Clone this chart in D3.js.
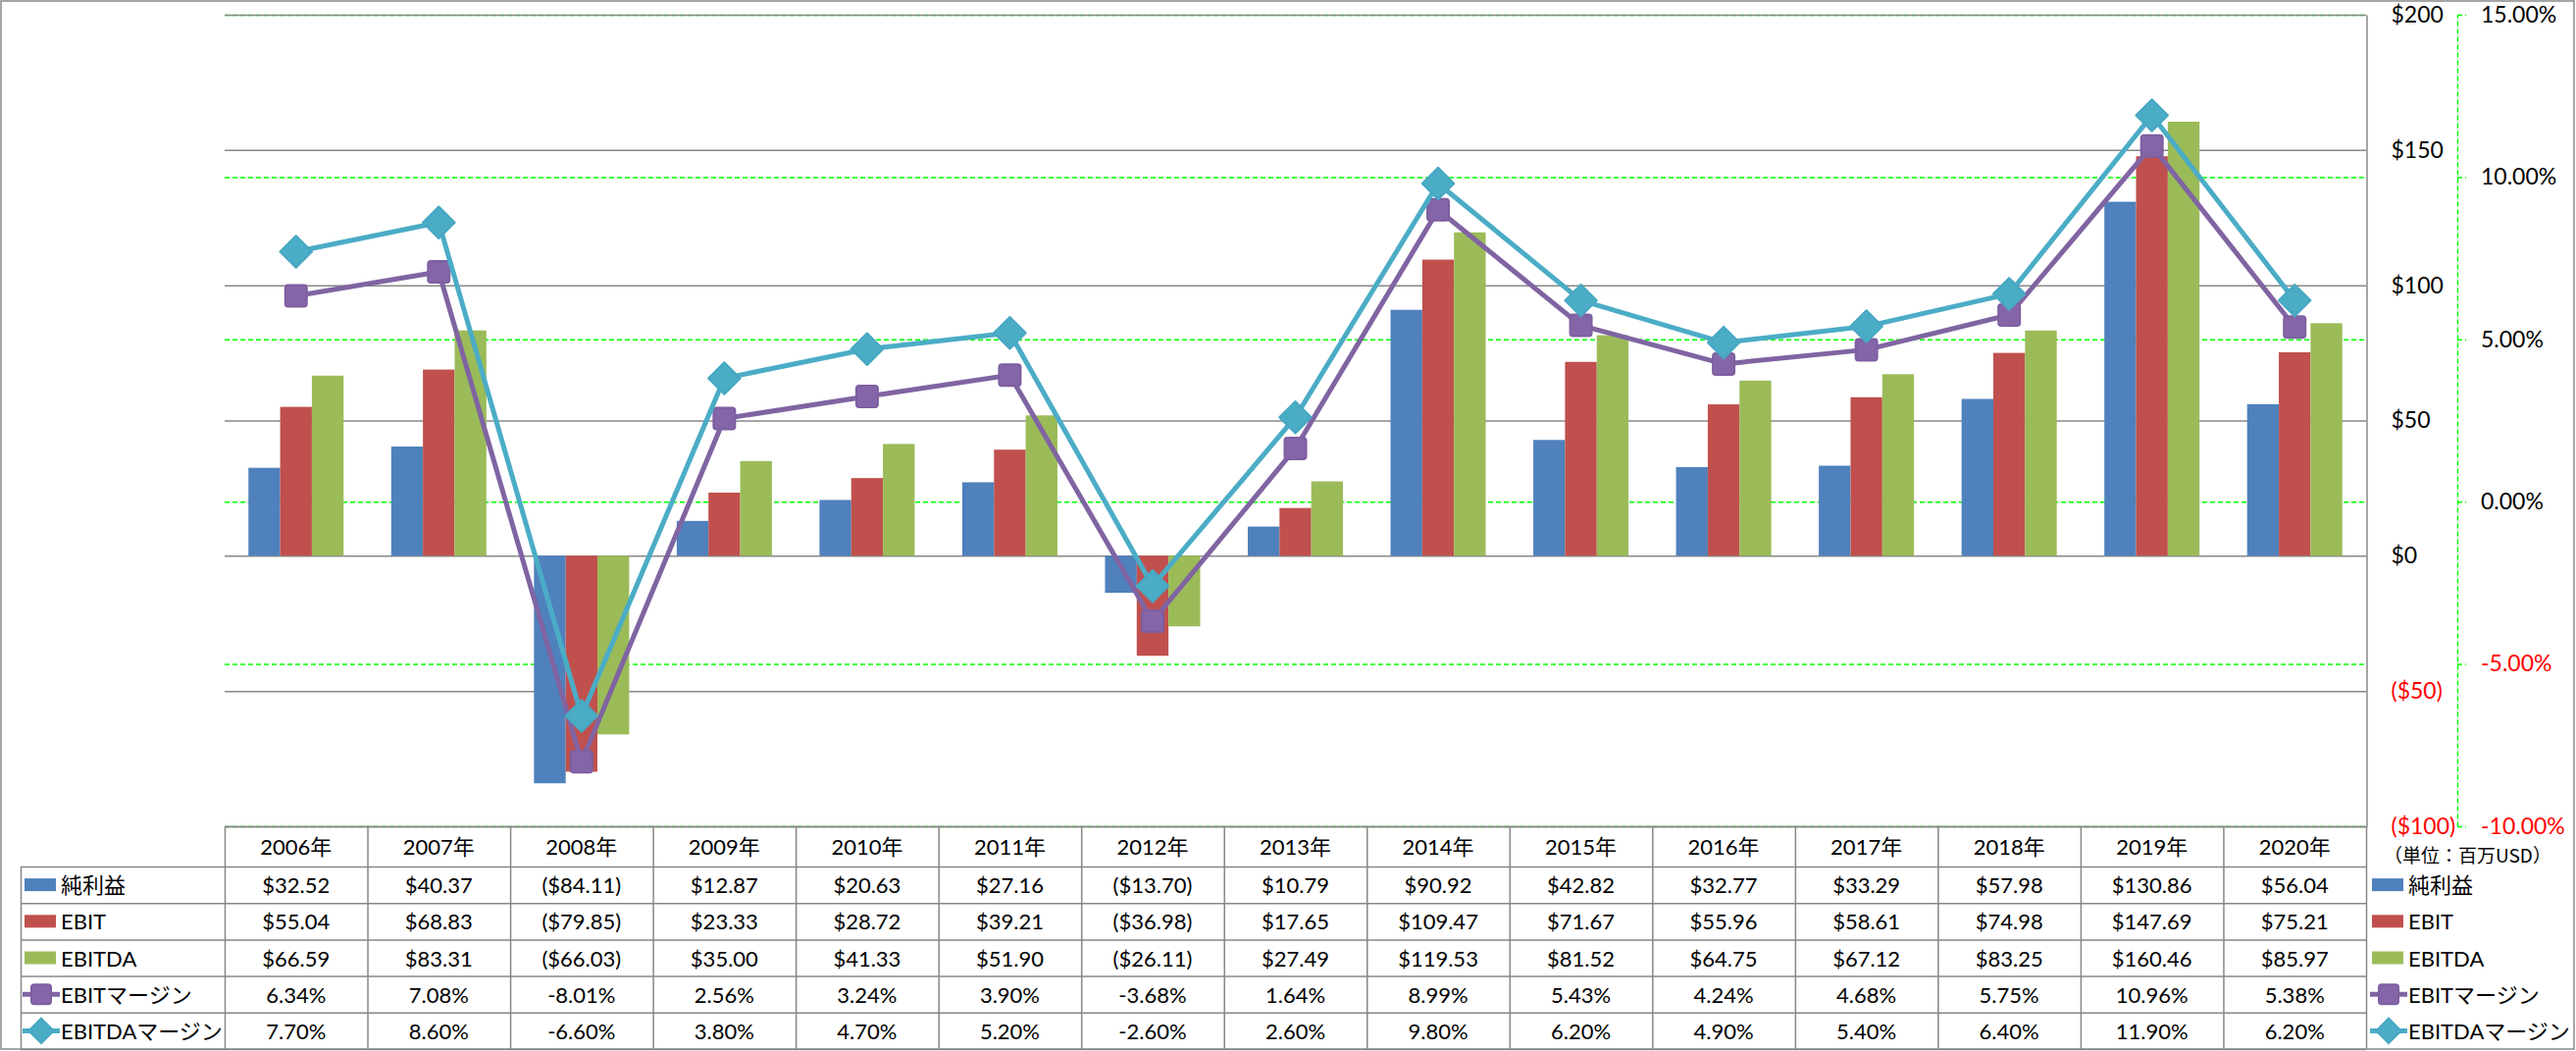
<!DOCTYPE html>
<html>
<head>
<meta charset="utf-8">
<script src="https://cdn.jsdelivr.net/npm/d3@7"></script>
<style>
  html, body { margin: 0; padding: 0; background: #fff; }
  svg { display: block; }
  text { font-family: Lato, "Noto Sans CJK JP", sans-serif; }
</style>
</head>
<body>
<svg id="chart" width="2626" height="1071"></svg>
<script>
// ---- Data ----
const years = ["2006年","2007年","2008年","2009年","2010年","2011年","2012年","2013年","2014年","2015年","2016年","2017年","2018年","2019年","2020年"];
const netIncome = [32.52, 40.37, -84.11, 12.87, 20.63, 27.16, -13.70, 10.79, 90.92, 42.82, 32.77, 33.29, 57.98, 130.86, 56.04];
const ebit      = [55.04, 68.83, -79.85, 23.33, 28.72, 39.21, -36.98, 17.65, 109.47, 71.67, 55.96, 58.61, 74.98, 147.69, 75.21];
const ebitda    = [66.59, 83.31, -66.03, 35.00, 41.33, 51.90, -26.11, 27.49, 119.53, 81.52, 64.75, 67.12, 83.25, 160.46, 85.97];
const ebitMargin   = [6.34, 7.08, -8.01, 2.56, 3.24, 3.90, -3.68, 1.64, 8.99, 5.43, 4.24, 4.68, 5.75, 10.96, 5.38];
const ebitdaMargin = [7.70, 8.60, -6.60, 3.80, 4.70, 5.20, -2.60, 2.60, 9.80, 6.20, 4.90, 5.40, 6.40, 11.90, 6.20];
const seriesNames = ["純利益","EBIT","EBITDA","EBITマージン","EBITDAマージン"];
const leftTicks = [-100, -50, 0, 50, 100, 150, 200];
const rightTicks = [-10, -5, 0, 5, 10, 15];
const unitLabel = "（単位：百万USD）";

// ---- Layout ----
const svg = d3.select("#chart");
const L = 229, R = 2412, T = 15, B = 842;
const colors = ["#4F81BD", "#C0504D", "#9BBB59", "#8064A2", "#4BACC6"];
const gridGray = "#878787";
const green = "#00FF00";
const FS = 22;

const yL = d3.scaleLinear().domain([-100, 200]).range([B, T]);
const yR = d3.scaleLinear().domain([-10, 15]).range([B, T]);
const xCol = d3.scaleBand().domain(years).range([L, R]);
const xBar = d3.scaleBand().domain(years).range([L, R]).paddingInner(1/3).paddingOuter(1/6);
const barSeries = [netIncome, ebit, ebitda];
const xSub = d3.scaleBand().domain([0,1,2]).range([0, xBar.bandwidth()]);
const cx = y => xCol(y) + xCol.bandwidth() / 2;

// ---- Gridlines ----
svg.append("g").selectAll("line").data(rightTicks).join("line")
  .attr("x1", L).attr("x2", R).attr("y1", d => yR(d) + 0.5).attr("y2", d => yR(d) + 0.5)
  .attr("stroke", green).attr("stroke-width", 1.5).attr("stroke-dasharray", "5,3");
svg.append("g").selectAll("line").data(leftTicks).join("line")
  .attr("x1", L).attr("x2", R).attr("y1", d => yL(d) + 0.5).attr("y2", d => yL(d) + 0.5)
  .attr("stroke", gridGray).attr("stroke-width", 1.5);

// ---- Bars ----
barSeries.forEach((vals, si) => {
  svg.append("g").selectAll("rect").data(vals).join("rect")
    .attr("x", (d, i) => xBar(years[i]) + xSub(si))
    .attr("width", xSub.bandwidth())
    .attr("y", d => Math.min(yL(d), yL(0)))
    .attr("height", d => Math.abs(yL(d) - yL(0)))
    .attr("fill", colors[si]);
});

// ---- Lines ----
const lineGen = d3.line().x((d, i) => cx(years[i])).y(d => yR(d));
const sqSize = 22, diaSide = 23;
[[ebitMargin, 3], [ebitdaMargin, 4]].forEach(([vals, ci]) => {
  svg.append("path").datum(vals).attr("d", lineGen)
    .attr("fill", "none").attr("stroke", colors[ci]).attr("stroke-width", 5)
    .attr("stroke-linejoin", "round");
  const g = svg.append("g");
  if (ci === 3) {
    g.selectAll("rect").data(vals).join("rect")
      .attr("x", (d, i) => cx(years[i]) - sqSize / 2)
      .attr("y", d => yR(d) - sqSize / 2)
      .attr("width", sqSize).attr("height", sqSize).attr("rx", 3)
      .attr("fill", "#8466A8").attr("stroke", "#7D5FA0").attr("stroke-width", 2);
  } else {
    g.selectAll("path").data(vals).join("path")
      .attr("d", d3.symbol().type(d3.symbolSquare).size(diaSide * diaSide))
      .attr("transform", (d, i) => `translate(${cx(years[i])},${yR(d)}) rotate(45)`)
      .attr("fill", "#4BACC6").attr("stroke", "#47A8C3").attr("stroke-width", 2)
      .attr("stroke-linejoin", "round");
  }
});

// ---- Axes ----
const fmtMoneyAxis = d => d < 0 ? `($${Math.abs(d)})` : `$${d}`;
const fmtPctAxis = d => `${d.toFixed(2)}%`;
const axL = svg.append("g").attr("transform", `translate(${R + 0.5},0)`)
  .call(d3.axisRight(yL).tickValues(leftTicks).tickFormat(fmtMoneyAxis).tickSize(0).tickPadding(25));
axL.select(".domain").attr("stroke", gridGray).attr("stroke-width", 1.5);
axL.selectAll("text").attr("font-size", FS + 1).attr("fill", d => d < 0 ? "#FF0000" : "#000")
  .style("font-family", "Lato, sans-serif");

const axR = svg.append("g").attr("transform", `translate(2505,0)`)
  .call(d3.axisRight(yR).tickValues(rightTicks).tickFormat(fmtPctAxis).tickSize(9).tickSizeOuter(0).tickPadding(15));
axR.select(".domain").attr("stroke", green).attr("stroke-width", 1.5).attr("stroke-dasharray", "5,3");
axR.selectAll(".tick line").attr("stroke", green).attr("stroke-width", 1.5).attr("stroke-dasharray", "5,3");
axR.selectAll("text").attr("font-size", FS + 1).attr("fill", d => d < 0 ? "#FF0000" : "#000")
  .style("font-family", "Lato, sans-serif");

// vertical axis line continuing down through the table
svg.append("line").attr("x1", R + 0.5).attr("x2", R + 0.5).attr("y1", B).attr("y2", 1069)
  .attr("stroke", gridGray).attr("stroke-width", 1.5);

// ---- Data table ----
const tableTop = 842, headerBottom = 883, tableBottom = 1069, tableLeft = 21;
const rowH = (tableBottom - headerBottom) / 5;
const rowY = i => headerBottom + i * rowH;
const tg = svg.append("g");
// horizontal lines
tg.append("line").attr("x1", L).attr("x2", R).attr("y1", tableTop + 0.5).attr("y2", tableTop + 0.5)
  .attr("stroke", gridGray).attr("stroke-width", 1.5);
d3.range(6).forEach(i => {
  tg.append("line").attr("x1", tableLeft).attr("x2", R).attr("y1", rowY(i) + 0.5).attr("y2", rowY(i) + 0.5)
    .attr("stroke", gridGray).attr("stroke-width", 1.5);
});
// vertical lines
tg.append("line").attr("x1", tableLeft + 0.5).attr("x2", tableLeft + 0.5).attr("y1", headerBottom).attr("y2", tableBottom)
  .attr("stroke", gridGray).attr("stroke-width", 1.5);
tg.selectAll("line.col").data(years).join("line").attr("class", "col")
  .attr("x1", d => xCol(d) + 0.5).attr("x2", d => xCol(d) + 0.5)
  .attr("y1", tableTop).attr("y2", tableBottom)
  .attr("stroke", gridGray).attr("stroke-width", 1.5);
// header text
tg.selectAll("text.hdr").data(years).join("text").attr("class", "hdr")
  .attr("x", d => cx(d)).attr("y", (tableTop + headerBottom) / 2)
  .attr("text-anchor", "middle").attr("dominant-baseline", "central")
  .attr("font-size", FS).attr("fill", "#000").text(d => d);
// cell text
const fmtMoney = d => d < 0 ? `($${Math.abs(d).toFixed(2)})` : `$${d.toFixed(2)}`;
const fmtPct = d => `${d.toFixed(2)}%`;
const rows = [[netIncome, fmtMoney], [ebit, fmtMoney], [ebitda, fmtMoney], [ebitMargin, fmtPct], [ebitdaMargin, fmtPct]];
rows.forEach(([vals, f], ri) => {
  tg.append("g").selectAll("text").data(vals).join("text")
    .attr("x", (d, i) => cx(years[i])).attr("y", rowY(ri) + rowH / 2)
    .attr("text-anchor", "middle").attr("dominant-baseline", "central")
    .attr("font-size", FS).attr("fill", "#000").text(d => f(d));
});

// ---- Legend keys (table rows and right legend) ----
function legendKey(g, x, y, si) {
  if (si < 3) {
    g.append("rect").attr("x", x).attr("y", y - 6.5).attr("width", 32).attr("height", 13).attr("fill", colors[si]);
  } else {
    g.append("line").attr("x1", x - 2).attr("x2", x + 36).attr("y1", y).attr("y2", y)
      .attr("stroke", colors[si]).attr("stroke-width", 5);
    if (si === 3) {
      g.append("rect").attr("x", x + 17 - 10).attr("y", y - 10).attr("width", 20).attr("height", 20).attr("rx", 3)
        .attr("fill", "#8466A8").attr("stroke", "#7D5FA0").attr("stroke-width", 2);
    } else {
      g.append("path").attr("d", d3.symbol().type(d3.symbolSquare).size(18 * 18))
        .attr("transform", `translate(${x + 17},${y}) rotate(45)`)
        .attr("fill", "#4BACC6").attr("stroke", "#47A8C3").attr("stroke-width", 2);
    }
  }
}
seriesNames.forEach((name, si) => {
  const yc = rowY(si) + rowH / 2;
  legendKey(tg, 25, yc, si);
  tg.append("text").attr("x", 62).attr("y", yc).attr("dominant-baseline", "central")
    .attr("font-size", FS).attr("fill", "#000").text(name);
  legendKey(svg, 2418, yc, si);
  svg.append("text").attr("x", 2455).attr("y", yc).attr("dominant-baseline", "central")
    .attr("font-size", FS).attr("fill", "#000").text(name);
});
svg.append("text").attr("x", 2430).attr("y", 870).attr("dominant-baseline", "central")
  .attr("font-size", 19).attr("fill", "#000")
  .style("font-family", "'Noto Sans CJK JP', sans-serif").text(unitLabel);

// ---- Outer border ----
svg.append("rect").attr("x", 1).attr("y", 1).attr("width", 2623).attr("height", 1068)
  .attr("fill", "none").attr("stroke", "#888").attr("stroke-width", 1.5);
</script>
</body>
</html>
